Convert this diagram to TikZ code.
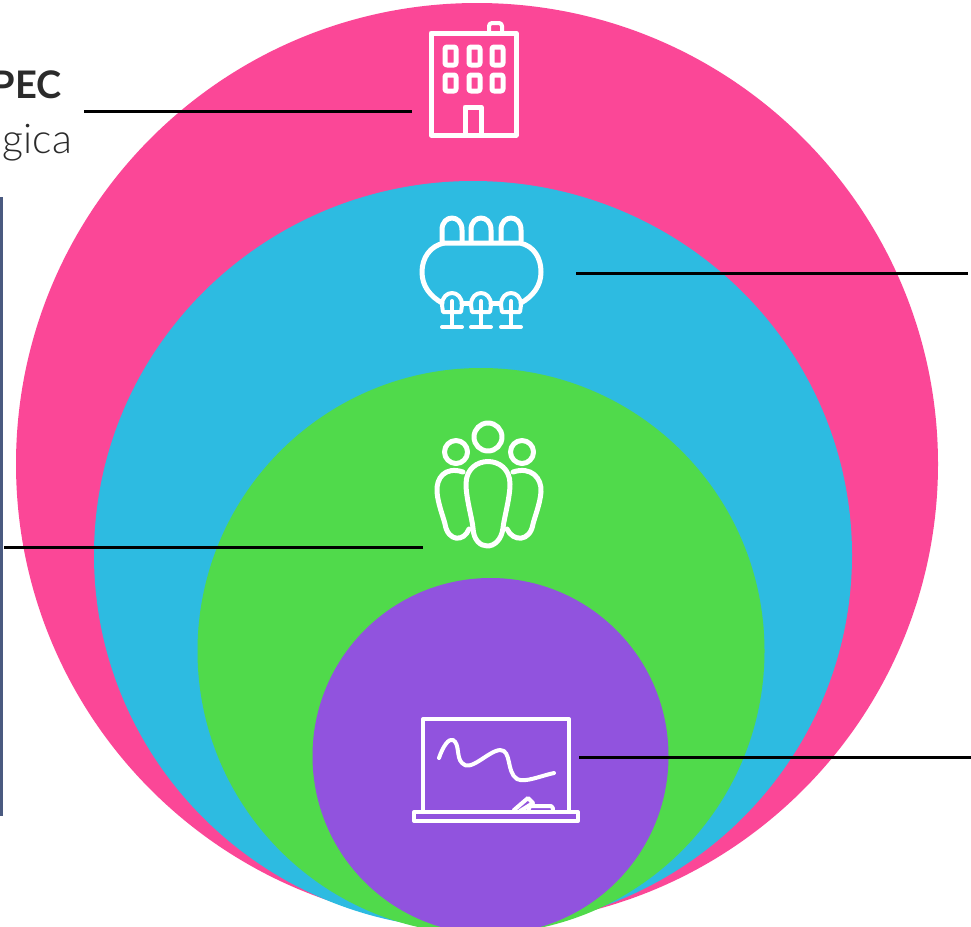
\documentclass[tikz,border=0pt]{standalone}
\usepackage{fontspec}
\setmainfont{Lato}
\newfontfamily\latolight{Lato Light}
\definecolor{ringpink}{HTML}{FB4797}
\definecolor{ringblue}{HTML}{2DBBE1}
\definecolor{ringgreen}{HTML}{50DA4B}
\definecolor{ringpurple}{HTML}{9153DE}
\definecolor{barblue}{HTML}{4A5A80}
\definecolor{inktext}{HTML}{2B2B2B}
\tikzset{
  icon/.style={draw=white,line width=5pt,line join=round,line cap=round,fill=none},
  thinicon/.style={icon,line width=4pt},
  leader/.style={draw=black,line width=3pt},
  lab/.style={inner sep=0pt,text=inktext,anchor=base east}
}
\begin{document}
\begin{tikzpicture}[x=1pt,y=-1pt]
\useasboundingbox (0,0) rectangle (971,926);
\clip (0,0) rectangle (971,926);
\fill[white] (0,0) rectangle (971,926);
% rings
\fill[ringpink] (477,464) ellipse [x radius=461pt,y radius=461pt];
\fill[ringblue] (473,555) ellipse [x radius=379pt,y radius=374pt];
\fill[ringgreen] (481,651) ellipse [x radius=283.5pt,y radius=283pt];
\fill[ringpurple] (490.5,756) ellipse [x radius=178pt,y radius=178pt];
% left bar
\fill[barblue] (0,197) rectangle (3,816);
% texts
\node[lab,font=\bfseries\fontsize{38}{38}\selectfont] (pec) at (62,98) {PEC};
\node[lab,font=\latolight\fontsize{41}{41}\selectfont] (gica) at (72,153) {gica};
% leaders
\coordinate (a1) at (84,111); \coordinate (a2) at (412,111);
\coordinate (b1) at (576,273); \coordinate (b2) at (968,273);
\coordinate (c1) at (4,547); \coordinate (c2) at (423,547);
\coordinate (d1) at (579,757); \coordinate (d2) at (971,757);
\draw[leader] (a1) -- (a2);
\draw[leader] (b1) -- (b2);
\draw[leader] (c1) -- (c2);
\draw[leader] (d1) -- (d2);
% building
\draw[icon] (431,33) rectangle (516,135);
\draw[thinicon,rounded corners=3pt] (489,32) -- (489,23) -- (502,23) -- (502,32);
\foreach \x in {445,469,492}{
  \draw[icon,rounded corners=2pt] (\x,47) rectangle ++(11,18);
  \draw[icon,rounded corners=2pt] (\x,75) rectangle ++(11,16);
}
\draw[icon] (465,135) -- (465,107) -- (481,107) -- (481,135);
% table
\draw[icon] (444,243) -- (520,243) .. controls (534,246) and (541,258) .. (541,272)
  .. controls (541,286) and (533,296) .. (521,303);
\draw[icon] (444,243) .. controls (430,246) and (422,258) .. (422,272)
  .. controls (422,286) and (430,296) .. (442,303);
\draw[icon] (462,303) -- (470,303);
\draw[icon] (491,303) -- (499,303);
\foreach \x in {452,481,511}{
  \draw[icon] (\x-10,241) -- (\x-10,230) .. controls (\x-10,214) and (\x+10,214) .. (\x+10,230) -- (\x+10,241);
  \draw[thinicon] (\x-9,312) -- (\x-10,305) .. controls (\x-10,289) and (\x+10,289) .. (\x+10,305) -- (\x+9,312) -- cycle;
  \draw[thinicon] (\x,301) -- (\x,327);
  \draw[thinicon] (\x-10,327) -- (\x+10,327);
}
% people
\draw[icon] (488,437) circle [radius=14pt];
\draw[icon] (456,452) circle [radius=11.5pt];
\draw[icon] (522,452) circle [radius=11.5pt];
\draw[icon] (466,484) .. controls (466,454) and (510,454) .. (510,484)
  .. controls (510,498) and (504,518) .. (503,528)
  .. controls (500,552) and (474,552) .. (473,528)
  .. controls (472,518) and (466,498) .. (466,484) -- cycle;
\draw[icon] (463,472) .. controls (445,466) and (436,478) .. (437,492)
  .. controls (438,504) and (443,516) .. (445,524)
  .. controls (448,542) and (464,542) .. (469,529);
\draw[icon] (513,472) .. controls (531,466) and (542,478) .. (541,492)
  .. controls (540,504) and (535,516) .. (533,524)
  .. controls (530,542) and (513,542) .. (507,529);
% blackboard
\draw[thinicon] (423,812) -- (423,719) -- (569,719) -- (569,812);
\draw[thinicon] (414,812) rectangle (578,821);
\draw[thinicon] (439,758) .. controls (443,746) and (449,738) .. (453,740)
  .. controls (460,744) and (456,757) .. (462,763)
  .. controls (470,773) and (488,751) .. (500,750)
  .. controls (512,750) and (506,772) .. (517,779)
  .. controls (525,783) and (540,776) .. (554,773);
\draw[thinicon] (514,810) -- (528,798) -- (533,803) -- (520,811);
\draw[thinicon] (528,811) -- (530,806) -- (551,806) .. controls (553,806) and (553,809) .. (553,811);
\end{tikzpicture}
\end{document}
